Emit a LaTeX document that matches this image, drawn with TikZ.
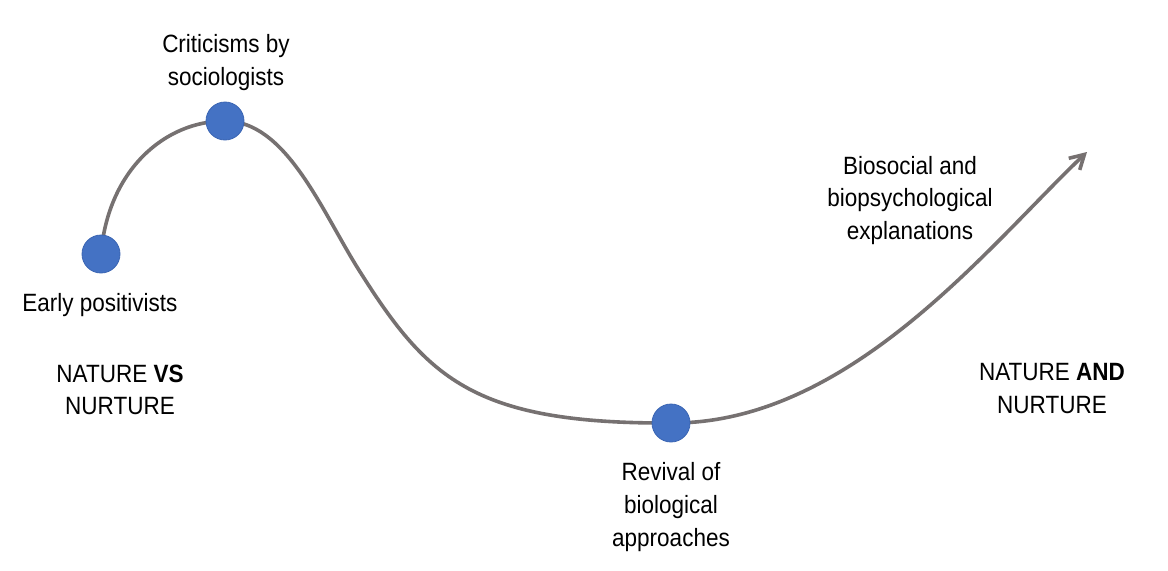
\documentclass[tikz,border=0pt]{standalone}
\usepackage{fontspec}
\setmainfont{Liberation Sans}[FakeStretch=0.9]
\usetikzlibrary{arrows.meta}
\definecolor{curvegray}{HTML}{767171}
\definecolor{dotblue}{HTML}{4472C4}
\definecolor{dotedge}{HTML}{3A65B3}
\begin{document}
\begin{tikzpicture}[x=0.75pt,y=-0.75pt,
  lbl/.style={align=center, inner sep=0pt, font=\fontsize{18.75pt}{24.4pt}\selectfont},
  dot/.style={circle, fill=dotblue, draw=dotedge, line width=0.6pt, minimum size=28.5pt, inner sep=0pt},
  trend/.style={draw=curvegray, line width=2.7pt, line cap=round}]
\useasboundingbox[fill=white] (0,0) rectangle (1168,571);
\coordinate (A) at (101,254);
\coordinate (B) at (225,121);
\coordinate (M) at (357,267);
\coordinate (C) at (671,423);
\coordinate (E) at (1087,152);
\draw[trend, -{Straight Barb[length=10.5pt,width=12pt]}]
  (A) .. controls (108,170) and (165,121) .. (B)
      .. controls (285,121) and (320,207) .. (M)
      .. controls (426,377) and (471,424) .. (C)
      .. controls (850,424) and (990,244) .. (E);
\node[dot] (d1) at (A) {};
\node[dot] (d2) at (B) {};
\node[dot] (d3) at (C) {};
\node[lbl] (crit) at (226,62.5) {Criticisms by\\sociologists};
\node[lbl] (early) at (100,305) {Early positivists};
\node[lbl] (nvs) at (120,390) {NATURE \textbf{VS}\\NURTURE};
\node[lbl] (bio) at (910,200.5) {Biosocial and\\biopsychological\\explanations};
\node[lbl] (nand) at (1052,388.5) {NATURE \textbf{AND}\\NURTURE};
\node[lbl] (rev) at (671,507) {Revival of\\biological\\approaches};
\end{tikzpicture}
\end{document}
